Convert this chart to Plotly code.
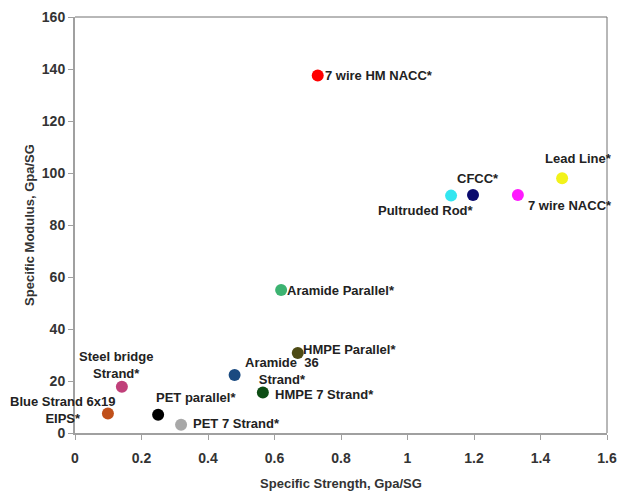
import plotly.graph_objects as go

names = ["7 wire HM NACC*", "Lead Line*", "CFCC*", "Pultruded Rod*", "7 wire NACC*",
         "Aramide Parallel*", "HMPE Parallel*", "Aramide  36<br>Strand*", "HMPE 7 Strand*",
         "Steel bridge<br>Strand*", "Blue Strand 6x19<br>EIPS*", "PET parallel*", "PET 7 Strand*"]
strength = [0.73, 1.465, 1.197, 1.131, 1.332, 0.62, 0.67, 0.48, 0.565, 0.141, 0.099, 0.25, 0.319]
modulus = [137.5, 98.0, 91.5, 91.3, 91.5, 55.0, 30.8, 22.3, 15.6, 17.8, 7.5, 7.0, 3.2]
colors = ["#ff0000", "#f2f21a", "#0a0a6e", "#33e6f0", "#ff1aff", "#3cb371", "#4d4a14",
          "#1a4a80", "#0d4d14", "#c0407a", "#c0501a", "#000000", "#a8a8a8"]

# label placement: (xanchor, yanchor, xshift, yshift)
placement = [("left", "middle", 5, 0), ("center", "middle", 16, 20), ("center", "middle", 5, 17),
             ("right", "middle", 25, -15), ("left", "middle", 8, -10), ("left", "middle", 4, 0),
             ("left", "middle", 3, 3), ("center", "middle", 47, 4), ("left", "middle", 10, -2),
             ("center", "middle", -6, 22), ("center", "middle", -45, 4), ("center", "middle", 38, 17),
             ("left", "middle", 10, 1)]

fig = go.Figure()
fig.add_trace(go.Scatter(x=strength, y=modulus, mode="markers",
                         marker=dict(size=12, color=colors), hoverinfo="skip"))

font = dict(family="Liberation Sans, Arial", size=13, color="#222")
for n, x, y, (xa, ya, xs, ys) in zip(names, strength, modulus, placement):
    fig.add_annotation(x=x, y=y, text="<b>" + n + "</b>", showarrow=False, xanchor=xa, yanchor=ya,
                       xshift=xs, yshift=ys, font=font, align="center")

axfont = dict(family="Liberation Sans, Arial", size=14, color="#333")
titlefont = dict(family="Liberation Sans, Arial", size=13, color="#333")
fig.update_layout(
    width=618, height=492, margin=dict(l=75, r=11, t=17, b=59),
    paper_bgcolor="white", plot_bgcolor="white", showlegend=False,
    xaxis=dict(range=[0, 1.6], tickvals=[0, 0.2, 0.4, 0.6, 0.8, 1, 1.2, 1.4, 1.6],
               ticktext=["<b>0</b>", "<b>0.2</b>", "<b>0.4</b>", "<b>0.6</b>", "<b>0.8</b>", "<b>1</b>",
                         "<b>1.2</b>", "<b>1.4</b>", "<b>1.6</b>"],
               showgrid=False, zeroline=False, showline=True, linecolor="#a0a0a0", linewidth=2,
               ticks="outside", ticklen=5, tickcolor="#a0a0a0", tickfont=axfont, automargin=False,
               ticklabelstandoff=6,
               title=dict(text="<b>Specific Strength, Gpa/SG</b>", font=titlefont, standoff=14)),
    yaxis=dict(range=[0, 160], tickvals=[0, 20, 40, 60, 80, 100, 120, 140, 160],
               ticktext=["<b>%d</b>" % v for v in [0, 20, 40, 60, 80, 100, 120, 140, 160]],
               showgrid=False, zeroline=False, showline=True, linecolor="#a0a0a0", linewidth=2,
               ticks="outside", ticklen=5, tickcolor="#a0a0a0", tickfont=axfont, automargin=False,
               title=dict(text="<b>Specific Modulus, Gpa/SG</b>", font=titlefont, standoff=4)),
)
fig.add_shape(type="line", xref="paper", yref="paper", x0=0, x1=1, y0=1, y1=1,
              line=dict(color="#707070", width=1))
fig.add_shape(type="line", xref="paper", yref="paper", x0=1, x1=1, y0=0, y1=1,
              line=dict(color="#707070", width=1))
fig.write_html("out.html", config={"displayModeBar": False},
               post_script="document.body.style.margin='0px';")
